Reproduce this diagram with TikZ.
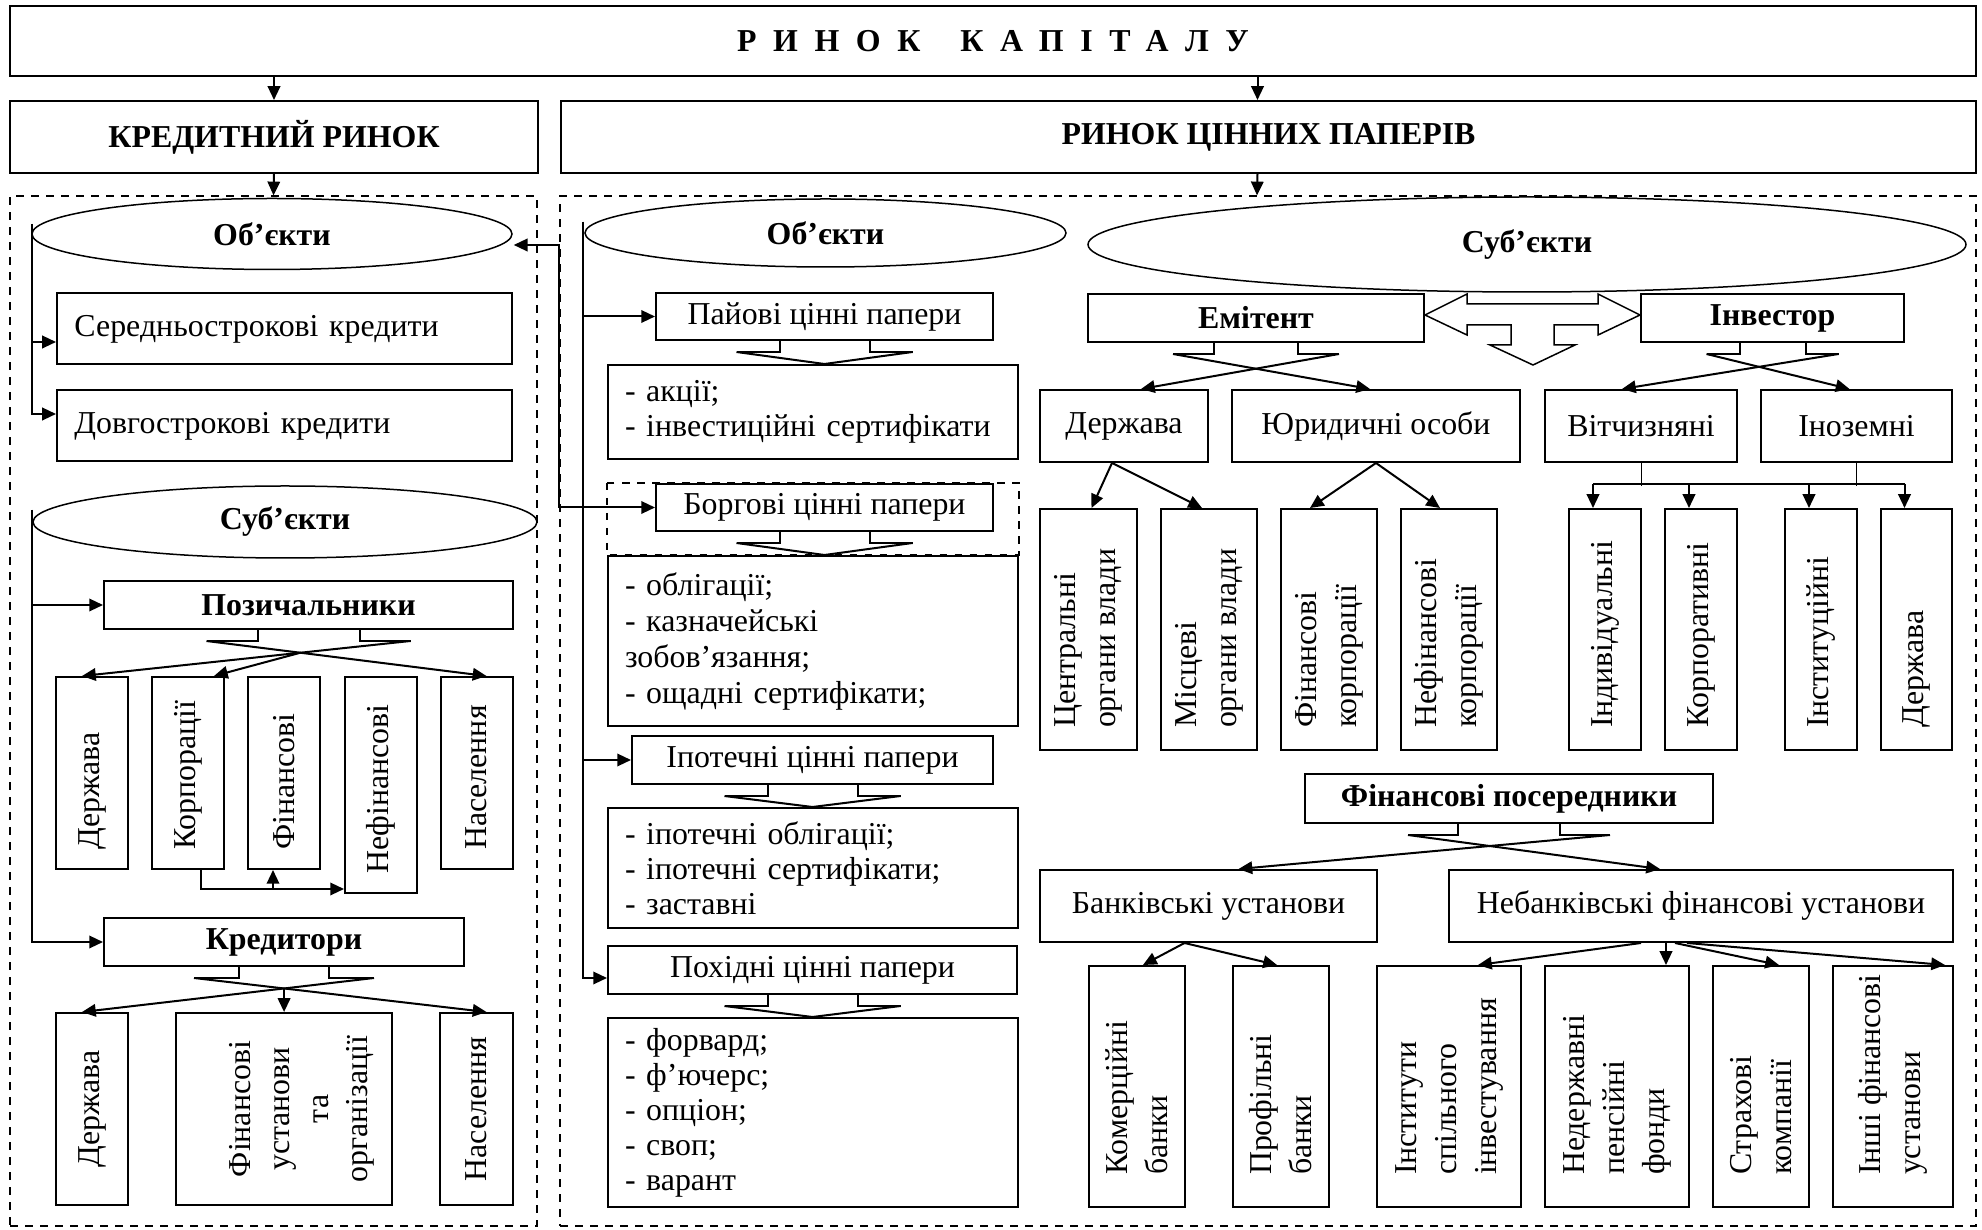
\documentclass[tikz,border=0pt]{standalone}
\usepackage{fontspec}
\setmainfont{Liberation Serif}
\usetikzlibrary{arrows.meta,calc,shapes.geometric,intersections}

\newcommand{\diagfont}{\fontsize{12.75pt}{14pt}\selectfont}
\newcommand{\legs}[3]{%
  \draw ($(#1.south)+(-#2,0)$) -- ++(0,11) -- ($(#1.south)+(-#3,11)$) coordinate (#1-l);
  \draw ($(#1.south)+(#2,0)$) -- ++(0,11) -- ($(#1.south)+(#3,11)$) coordinate (#1-r);
}

\begin{document}
\begin{tikzpicture}[x=0.4pt,y=-0.4pt,font=\diagfont,line width=0.8pt,
    >={Triangle[length=5.5pt,width=5pt]},
    sz/.style 2 args={minimum width=#1*0.4pt,minimum height=#2*0.4pt},
    box/.style={draw,rectangle,inner sep=0pt,fill=white,font=\diagfont},
    hbox/.style={box,font=\diagfont\bfseries},
    lbox/.style={box,align=left,inner xsep=7pt},
    oval/.style={draw,ellipse,inner sep=0pt,fill=white,line width=0.6pt,font=\diagfont\bfseries},
    vtext/.style={rotate=90,anchor=west,align=left,inner sep=0pt,font=\fontsize{12.75pt}{16pt}\selectfont},
    area/.style={draw,dashed,line width=0.5pt,inner sep=0pt}]
    \useasboundingbox (0,0) rectangle (1982,1230);

    \node[area,sz={527}{1030}] (kredarea) at (273.5,711) {};
    \node[area,sz={1416}{1030}] (cparea) at (1268,711) {};

    \node[hbox,sz={1966}{70}] (top) at (993,41)
        {\addfontfeatures{LetterSpace=52}РИНОК\hspace{16pt}КАПІТАЛУ};
    \node[hbox,sz={528}{72}] (kred) at (274,137) {КРЕДИТНИЙ РИНОК};
    \node[hbox,sz={1415}{72}] (cp) at (1268.5,137) {РИНОК ЦІННИХ ПАПЕРІВ};
    \coordinate (cpin) at ($(cp.north)+(-11,0)$);
    \draw[->] (top.south -| kred.north) -- (kred.north);
    \draw[->] (top.south -| cpin) -- (cpin);
    \draw[->] (kred.south) -- (kredarea.north);
    \draw[->] ($(cp.south)+(-11,0)$) -- ($(cparea.north)+(-11,0)$);

    \node[oval,sz={480}{71}] (ob1) at (272,234) {Об’єкти};
    \node[lbox,sz={455}{71},text width=168pt] (seredni) at (284.5,329) {Середньострокові кредити};
    \node[lbox,sz={455}{71},text width=168pt] (dovgo) at (284.5,426) {Довгострокові кредити};
    \draw[->] ($(ob1.west)+(1,-10)$) |- ($(seredni.west)+(0,13)$);
    \draw[->] ($(ob1.west)+(1,-10)$) |- ($(dovgo.west)+(0,-12)$);

    \node[oval,sz={504}{72}] (sub1) at (285,522) {Суб’єкти};
    \node[hbox,sz={409}{48}] (poz) at (308.5,605) {Позичальники};
    \node[hbox,sz={360}{48}] (kreditory) at (284,942) {Кредитори};
    \draw[->] ($(sub1.west)+(0,-12)$) |- (poz.west);
    \draw[->] ($(sub1.west)+(0,-12)$) |- (kreditory.west);

    \foreach \n/\cx/\cy/\h/\t in {d1/92/773/192/Держава, korp/188/773/192/Корпорації,
        fin/284/773/192/Фінансові, nefin/381/785/216/Нефінансові, nas1/476.5/773/192/Населення}{
        \node[box,sz={72}{\h}] (\n) at (\cx,\cy) {};
        \node[vtext] (\n-t) at ($(\n.south)+(0,-19)$) {\t};
    }
    \foreach \n/\cx/\w/\dx/\t in {d2/92/72/0/Держава, fui/284/216/18/{Фінансові\\установи\\та\\організації},
        nas2/476.5/73/0/Населення}{
        \node[box,sz={\w}{192}] (\n) at (\cx,1109) {};
        \node[vtext,anchor=center,align=center,font=\fontsize{12.75pt}{15.6pt}\selectfont] (\n-t)
            at ($(\n.center)+(\dx,0)$) {\t};
    }

    \legs{poz}{51}{102}
    \draw[->,name path=pza] (poz-l) -- ($(nas1.north)+(10,0)$);
    \draw[->,name path=pzb] (poz-r) -- ($(d1.north)+(-10,0)$);
    \draw[->,name intersections={of=pza and pzb,by=pzx}] (pzx) -- ($(korp.north)+(26,0)$);
    \draw[->] ($(korp.south)+(13,0)$) |- ($(nefin.south west)+(0,-5)$);
    \draw[->] ($(fin.south)+(-11,0)$) ++(0,19) -- ++(0,-19);

    \legs{kreditory}{45}{90}
    \draw[->,name path=kra] (kreditory-l) -- ($(nas2.north)+(10,0)$);
    \draw[->,name path=krb] (kreditory-r) -- ($(d2.north)+(-10,0)$);
    \draw[->,name intersections={of=kra and krb,by=krx}] (krx) -- (krx |- fui.north);

    \node[oval,sz={481}{68}] (ob2) at (825.5,233) {Об’єкти};
    \node[box,sz={337}{47}] (pay) at (824.5,316.5) {Пайові цінні папери};
    \node[lbox,sz={409}{94},text width=150pt] (akcii) at (812.5,412)
        {- акції;\\- інвестиційні сертифікати};
    \node[box,sz={337}{47}] (borg) at (824.5,507.5) {Боргові цінні папери};
    \node[lbox,sz={409}{170},text width=150pt,font=\fontsize{12.75pt}{14.4pt}\selectfont] (obl) at (812.5,641)
        {- облігації;\\- казначейські\\зобов’язання;\\- ощадні сертифікати;};
    \node[box,sz={361}{48}] (ipot) at (812.5,760) {Іпотечні цінні папери};
    \node[lbox,sz={409}{120},text width=150pt] (ipob) at (812.5,868)
        {- іпотечні облігації;\\- іпотечні сертифікати;\\- заставні};
    \node[box,sz={409}{48}] (pohid) at (812.5,970) {Похідні цінні папери};
    \node[lbox,sz={409}{189},text width=150pt] (forv) at (812.5,1112.5)
        {- форвард;\\- ф’ючерс;\\- опціон;\\- своп;\\- варант};
    \draw[dashed] (borg.north -| obl.west) rectangle (obl.north east);

    \foreach \a/\b in {pay/akcii,borg/obl,ipot/ipob,pohid/forv}{
        \legs{\a}{45}{88}
        \draw (\a-l) -- (\a.south |- \b.north) -- (\a-r);
    }

    \coordinate (rt) at ($(ob2.west)+(-1,-11)$);
    \draw[->] (rt) |- (pay.west);
    \draw[->] (rt) |- (ipot.west);
    \draw[->] (rt) |- ($(pohid.west)+(0,8)$);

    \coordinate (lk) at ($(ob1.east)+(1,11)$);
    \draw[<->] (lk) -- (lk -| cparea.west) |- (borg.west);

    \node[oval,sz={878}{95}] (sub2) at (1527,244.5) {Суб’єкти};
    \node[hbox,sz={336}{48}] (emit) at (1256,318) {Емітент};
    \node[hbox,sz={263}{48}] (inv) at (1772.5,318) {Інвестор};
    \draw[fill=white,line width=0.6pt] (1425,315) -- (1467,294) -- (1467,304) -- (1598,304)
        -- (1598,294) -- (1640,315) -- (1598,335) -- (1598,325) -- (1554,325) -- (1554,345)
        -- (1575,345) -- (1533,365) -- (1490,345) -- (1511,345) -- (1511,325) -- (1467,325)
        -- (1467,335) -- cycle;

    \node[box,sz={168}{72}] (derzh) at (1124,426) {Держава};
    \node[box,sz={288}{72}] (yur) at (1376,426) {Юридичні особи};
    \node[box,sz={192}{72}] (vitch) at (1641,426) {Вітчизняні};
    \node[box,sz={191}{72}] (inoz) at (1856.5,426) {Іноземні};

    \legs{emit}{42}{83}
    \draw[->] (emit-l) -- ($(yur.north)+(-6,0)$);
    \draw[->] (emit-r) -- ($(derzh.north)+(17,0)$);
    \legs{inv}{33}{66}
    \draw[->] (inv-l) -- ($(inoz.north)+(-7,0)$);
    \draw[->] (inv-r) -- ($(vitch.north)+(-19,0)$);

    \foreach \n/\cx/\w/\t in {cent/1088.5/97/{Центральні\\органи влади}, misc/1209/96/{Місцеві\\органи влади},
        fkorp/1329/96/{Фінансові\\корпорації}, nfkorp/1449/96/{Нефінансові\\корпорації},
        indiv/1605/72/Індивідуальні, korpv/1701/72/Корпоративні, inst/1821/72/Інституційні,
        derzh2/1916.5/71/Держава}{
        \node[box,sz={\w}{241}] (\n) at (\cx,629.5) {};
        \node[vtext] (\n-t) at ($(\n.south)+(0,-22)$) {\t};
    }

    \draw[->] ($(derzh.south)+(-12,0)$) -- ($(cent.north)+(3,0)$);
    \draw[->] ($(derzh.south)+(-12,0)$) -- ($(misc.north)+(-7,0)$);
    \draw[->] (yur.south) -- ($(fkorp.north)+(-19,0)$);
    \draw[->] (yur.south) -- ($(nfkorp.north)+(-9,0)$);
    \draw[line width=0.4pt] (vitch.south) -- ++(0,23);
    \draw[line width=0.4pt] (inoz.south) -- ++(0,23);
    \draw ($(indiv.north)+(-12,-24)$) -- ($(derzh2.north)+(-12,-24)$);
    \foreach \n in {indiv,korpv,inst,derzh2}
        \draw[->] ($(\n.north)+(-12,-24)$) -- ($(\n.north)+(-12,0)$);

    \node[hbox,sz={408}{49}] (fposer) at (1509,798.5) {Фінансові посередники};
    \node[box,sz={337}{72}] (bank) at (1208.5,906) {Банківські установи};
    \node[box,sz={504}{72}] (nebank) at (1701,906) {Небанківські фінансові установи};
    \legs{fposer}{51}{101}
    \draw[->] (fposer-l) -- ($(nebank.north)+(-41,0)$);
    \draw[->] (fposer-r) -- ($(bank.north)+(30,0)$);

    \foreach \n/\cx/\w/\t in {kom/1137/96/{Комерційні\\банки}, prof/1281/96/{Профільні\\банки},
        isi/1449/144/{Інститути\\спільного\\інвестування}, npf/1617/144/{Недержавні\\пенсійні\\фонди},
        strah/1761/96/{Страхові\\компанії}, inshi/1893/120/{Інші фінансові\\установи}}{
        \node[box,sz={\w}{241}] (\n) at (\cx,1086.5) {};
        \node[vtext] (\n-t) at ($(\n.south)+(0,-32)$) {\t};
    }

    \draw[->] ($(bank.south)+(-24,0)$) -- ($(kom.north)+(6,0)$);
    \draw[->] ($(bank.south)+(-24,0)$) -- ($(prof.north)+(-4,0)$);
    \draw[->] ($(nebank.south)+(-60,0)$) -- ($(isi.north)+(29,0)$);
    \draw[->] ($(nebank.south)+(-35,0)$) -- ($(npf.north)+(49,0)$);
    \draw[->] ($(nebank.south)+(-26,0)$) -- ($(strah.north)+(18,0)$);
    \draw[->] ($(nebank.south)+(-14,0)$) -- ($(inshi.north)+(52,0)$);
\end{tikzpicture}
\end{document}
